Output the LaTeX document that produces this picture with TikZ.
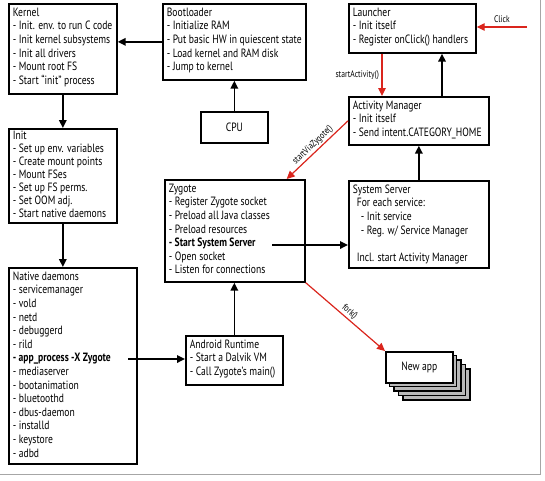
\documentclass[tikz,border=0pt]{standalone}
\usepackage{fontspec}
\setmainfont{PT Sans}[FakeStretch=0.8]
\usetikzlibrary{arrows.meta,calc}
\definecolor{myred}{RGB}{218,37,29}
\newcommand{\bxt}[3]{\begin{minipage}[t][#2][t]{#1}\begin{tabular}[t]{@{}l@{}}#3\end{tabular}\end{minipage}}
\begin{document}
\begin{tikzpicture}[x=1pt,y=-1pt,
  box/.style={draw=black,line width=1.7pt,fill=white,anchor=north west,inner xsep=4pt,inner ysep=3pt,
    font=\fontsize{12}{13.6}\selectfont},
  cbox/.style={draw=black,line width=1.7pt,fill=white,anchor=north west,inner sep=0pt,
    font=\fontsize{12}{13.6}\selectfont},
  arr/.style={line width=1.7pt,-{Triangle[length=8pt,width=7.5pt]}},
  rarr/.style={myred,line width=1.2pt,-{Triangle[length=8pt,width=7.5pt]}},
  lab/.style={font=\fontsize{9.5}{11}\selectfont,inner sep=1.5pt}]
\useasboundingbox (0,0) rectangle (545,480);
\draw[gray!70,line width=0.8pt] (0,474) -- (540,474) -- (540,0);

\node[box] (kernel) at (8,3) {\bxt{100pt}{84pt}{Kernel\\- Init. env. to run C code\\- Init kernel subsystems\\- Init all drivers\\- Mount root FS\\- Start ``init'' process}};
\node[box] (boot) at (162,3) {\bxt{135pt}{70pt}{Bootloader\\- Initialize RAM\\- Put basic HW in quiescent state\\- Load kernel and RAM disk\\- Jump to kernel}};
\node[cbox,minimum width=67pt,minimum height=31pt] (cpu) at (200,111) {CPU};
\node[box,font=\fontsize{12}{13}\selectfont,inner ysep=2pt] (init) at (8,128) {\bxt{100pt}{90pt}{Init\\- Set up env. variables\\- Create mount points\\- Mount FSes\\- Set up FS perms.\\- Set OOM adj.\\- Start native daemons}};
\node[box] (zygote) at (164,179) {\bxt{132pt}{96pt}{Zygote\\- Register Zygote socket\\- Preload all Java classes\\- Preload resources\\\textbf{- Start System Server}\\- Open socket\\- Listen for connections}};
\node[box] (native) at (8,267) {\bxt{120pt}{190pt}{Native daemons\\- servicemanager\\- vold\\- netd\\- debuggerd\\- rild\\\textbf{- app\_process -X Zygote}\\- mediaserver\\- bootanimation\\- bluetoothd\\- dbus-daemon\\- installd\\- keystore\\- adbd}};
\node[box] (art) at (185,335) {\bxt{89pt}{43pt}{Android Runtime\\- Start a Dalvik VM\\- Call Zygote's main()}};
\node[box] (launcher) at (348,3) {\bxt{119pt}{43pt}{Launcher\\- Init itself\\- Register onClick() handlers}};
\node[box] (am) at (348,96) {\bxt{132pt}{42pt}{Activity Manager\\- Init itself\\- Send intent.CATEGORY\_HOME}};
\node[box] (ss) at (348,180) {\bxt{132pt}{81pt}{System Server\\\hspace*{4pt}For each service:\\\hspace*{8pt}- Init service\\\hspace*{8pt}- Reg. w/ Service Manager\\[13.6pt]\hspace*{4pt}Incl. start Activity Manager}};

\foreach \d in {18,13.5,9,4.5}
  \draw[line width=1.7pt,fill=gray!55] (385+\d,351+\d) rectangle +(67,31);
\node[cbox,minimum width=67pt,minimum height=31pt] (newapp) at (385,351) {New app};

\coordinate (ap) at (128,359);
\coordinate (sss) at (272,245);
\coordinate (click) at (527,27);

\draw[arr] (boot.west) -- (boot.west -| kernel.east);
\draw[arr] (cpu.north) -- (cpu.north |- boot.south);
\draw[arr] (kernel.south) -- (kernel.south |- init.north);
\draw[arr] (init.south) -- (init.south |- native.north);
\draw[arr] (ap) -- (ap -| art.west);
\draw[arr] (art.north) -- (art.north |- zygote.south);
\draw[arr] (sss) -- (sss -| ss.west);
\draw[arr] (ss.north) -- (ss.north |- am.south);
\draw[arr] ([xshift=94pt]am.north west) -- ([xshift=94pt]am.north west |- launcher.south);
\draw[rarr] ([xshift=34pt]launcher.south west) -- node[lab,left,black,xshift=-1pt] {startActivity()} ([xshift=34pt]launcher.south west |- am.north);
\draw[rarr] (click) -- node[lab,above,black,yshift=2pt] {Click} (click -| launcher.east);
\draw[rarr] (am.west) -- node[lab,black,sloped,above,pos=0.5] {startViaZygote()} ([xshift=-19pt]zygote.north east);
\draw[rarr] (zygote.south east) -- node[lab,black,sloped,above,pos=0.5] {fork()} (newapp.north west);
\end{tikzpicture}
\end{document}
